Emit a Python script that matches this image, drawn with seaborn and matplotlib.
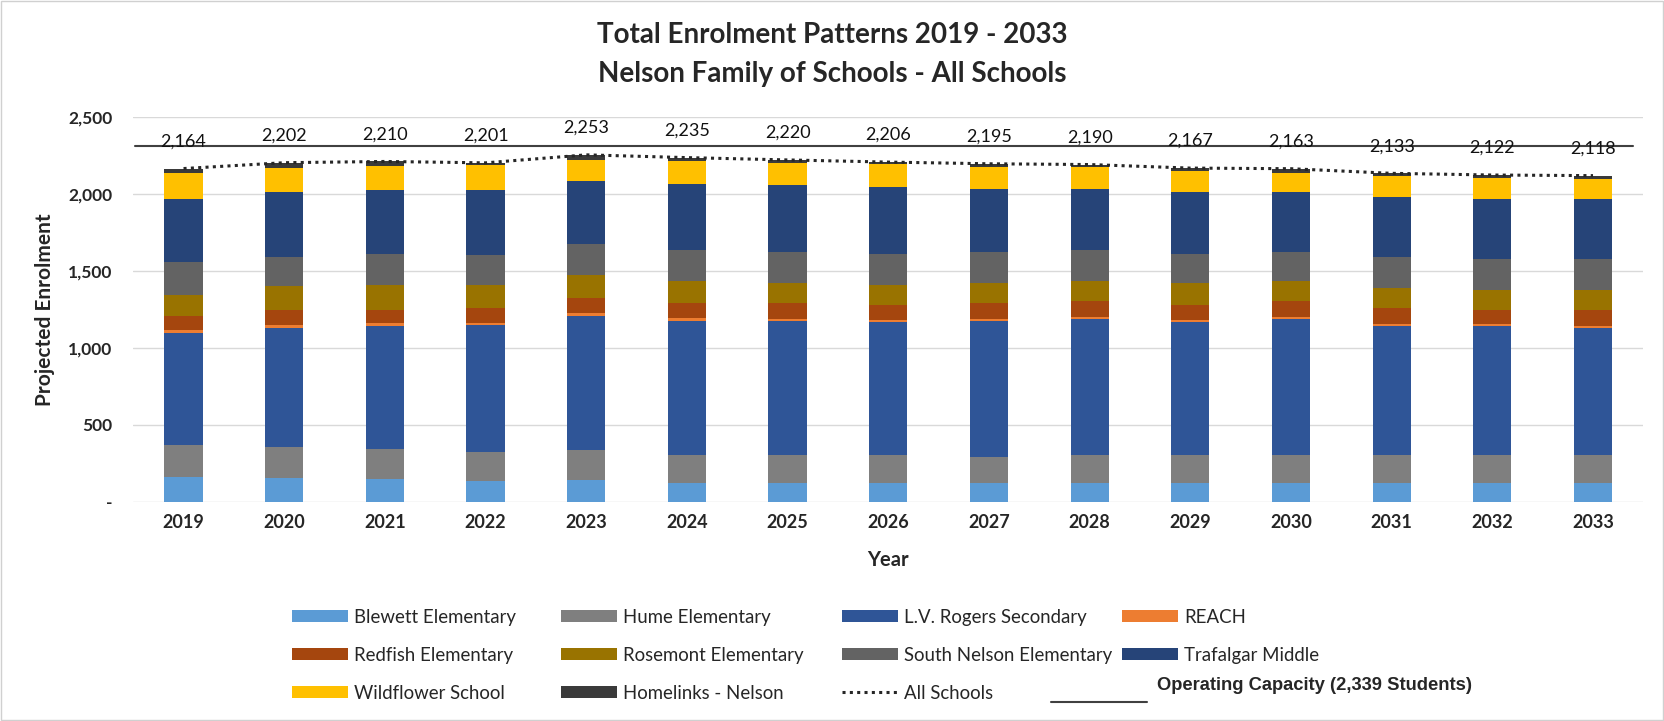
import numpy as np
import pandas as pd
import seaborn as sns
import matplotlib.pyplot as plt
from matplotlib.lines import Line2D
from matplotlib.patches import Patch, Rectangle

# enrolment by school, 2019 - 2033
years = ['2019', '2020', '2021', '2022', '2023', '2024', '2025', '2026',
         '2027', '2028', '2029', '2030', '2031', '2032', '2033']

blewett = [162, 156, 145, 134, 143, 123, 123, 123, 123, 123, 123, 123, 123, 123, 123]
hume = [204, 197, 197, 190, 192, 180, 180, 178, 165, 178, 178, 178, 178, 178, 178]
lv_rogers = [733, 776, 800, 827, 870, 872, 872, 867, 887, 884, 867, 884, 841, 841, 828]
reach = [19, 22, 20, 13, 21, 17, 15, 15, 15, 15, 11, 15, 15, 15, 15]
redfish = [87, 97, 86, 95, 98, 99, 101, 97, 101, 102, 101, 102, 102, 91, 104]
rosemont = [140, 151, 158, 151, 151, 141, 130, 130, 130, 130, 141, 130, 130, 130, 130]
south_nelson = [212, 191, 203, 191, 197, 201, 201, 201, 199, 201, 190, 188, 201, 201, 201]
trafalgar = [411, 422, 413, 421, 413, 433, 433, 433, 413, 400, 401, 392, 389, 389, 389]
wildflower = [167, 155, 156, 163, 136, 145, 145, 147, 140, 139, 134, 125, 134, 134, 131]
homelinks = [29, 35, 32, 16, 32, 24, 20, 15, 22, 18, 21, 26, 20, 20, 19]

schools = ['Blewett Elementary', 'Hume Elementary', 'L.V. Rogers Secondary', 'REACH',
           'Redfish Elementary', 'Rosemont Elementary', 'South Nelson Elementary',
           'Trafalgar Middle', 'Wildflower School', 'Homelinks - Nelson']
colors = ['#5B9BD5', '#7F7F7F', '#2F5597', '#ED7D31', '#A5460E', '#997300',
          '#636363', '#264478', '#FFC000', '#3A3A3A']

capacity_level = 2310  # drawn position of the operating capacity line

enrol = pd.DataFrame(dict(zip(schools, [blewett, hume, lv_rogers, reach, redfish, rosemont,
                                         south_nelson, trafalgar, wildflower, homelinks])),
                     index=years)
totals = enrol.sum(axis=1).to_list()

sns.set_style('white')
plt.rcParams['font.family'] = ['Lato', 'DejaVu Sans']

fig = plt.figure(figsize=(16.65, 7.21), dpi=100)
ax = fig.add_axes([0.080, 0.304, 0.907, 0.534])

bottom = np.zeros(len(years))
for school, color in zip(schools, colors):
    sns.barplot(x=years, y=enrol[school].values, color=color, bottom=bottom, width=0.38,
                saturation=1, errorbar=None, ax=ax, linewidth=0)
    bottom = bottom + enrol[school].values

sns.lineplot(x=np.arange(len(years)), y=totals, ax=ax, color='#262626',
             linestyle=(0, (1, 1.4)), linewidth=2.2)

for i, t in enumerate(totals):
    ax.annotate(f'{t:,}', (i, t), xytext=(0, 19.5), textcoords='offset points',
                ha='center', va='center', fontsize=13, color='#111111')

ax.axhline(capacity_level, xmin=0.001, xmax=0.993, color='#404040', lw=1.5)

ax.set_xlim(-0.5, len(years) - 0.5)
ax.set_ylim(0, 2500)
ax.set_yticks([0, 500, 1000, 1500, 2000, 2500])
ax.set_yticklabels(['-', '500', '1,000', '1,500', '2,000', '2,500'])
ax.tick_params(axis='y', length=0, pad=15, labelsize=12.5)
ax.tick_params(axis='x', length=0, pad=9, labelsize=13)
for lbl in ax.get_xticklabels() + ax.get_yticklabels():
    lbl.set_fontweight('bold')
ax.yaxis.grid(True, color='#D9D9D9', lw=1)
ax.set_axisbelow(True)
sns.despine(ax=ax, left=True, bottom=True)

ax.set_xlabel('Year', fontsize=14.5, fontweight='bold')
ax.xaxis.set_label_coords(0.5, -0.125)
ax.set_ylabel('Projected Enrolment', fontsize=15, fontweight='bold')
ax.yaxis.set_label_coords(-0.052, 0.5)

fig.text(0.5, 1 - 35 / 721, 'Total Enrolment Patterns 2019 - 2033', ha='center', va='center',
         fontsize=20, fontweight='bold')
fig.text(0.5, 1 - 74 / 721, 'Nelson Family of Schools - All Schools', ha='center', va='center',
         fontsize=20, fontweight='bold')

# legend, built column by column to match the layout
handles = {s: Patch(facecolor=c, edgecolor='none') for s, c in zip(schools, colors)}
handles['All Schools'] = Line2D([], [], color='#262626', linestyle=(0, (1, 1.4)), linewidth=2.2)
columns = [['Blewett Elementary', 'Redfish Elementary', 'Wildflower School'],
           ['Hume Elementary', 'Rosemont Elementary', 'Homelinks - Nelson'],
           ['L.V. Rogers Secondary', 'South Nelson Elementary', 'All Schools'],
           ['REACH', 'Trafalgar Middle']]
col_x = [292, 561, 842, 1122]
for names, x in zip(columns, col_x):
    fig.legend([handles[n] for n in names], names, loc='upper left',
               bbox_to_anchor=(x / 1665, 1 - 609 / 721), frameon=False, fontsize=13.4,
               handlelength=3.0, handleheight=0.62, handletextpad=0.35, labelspacing=1.12,
               borderpad=0, borderaxespad=0)

fig.text(1157 / 1665, 1 - 685 / 721, 'Operating Capacity (2,339 Students)', ha='left', va='center',
         fontsize=13.2, fontweight='bold', family=['Liberation Sans', 'DejaVu Sans'])
fig.add_artist(Line2D([1051 / 1665, 1147 / 1665], [1 - 702 / 721] * 2, color='#404040', lw=1.5))

fig.add_artist(Rectangle((0.0008, 0.0015), 0.998, 0.997, transform=fig.transFigure,
                         fill=False, edgecolor='#D0D0D0', lw=1))

fig.savefig('out.png', dpi=100)
